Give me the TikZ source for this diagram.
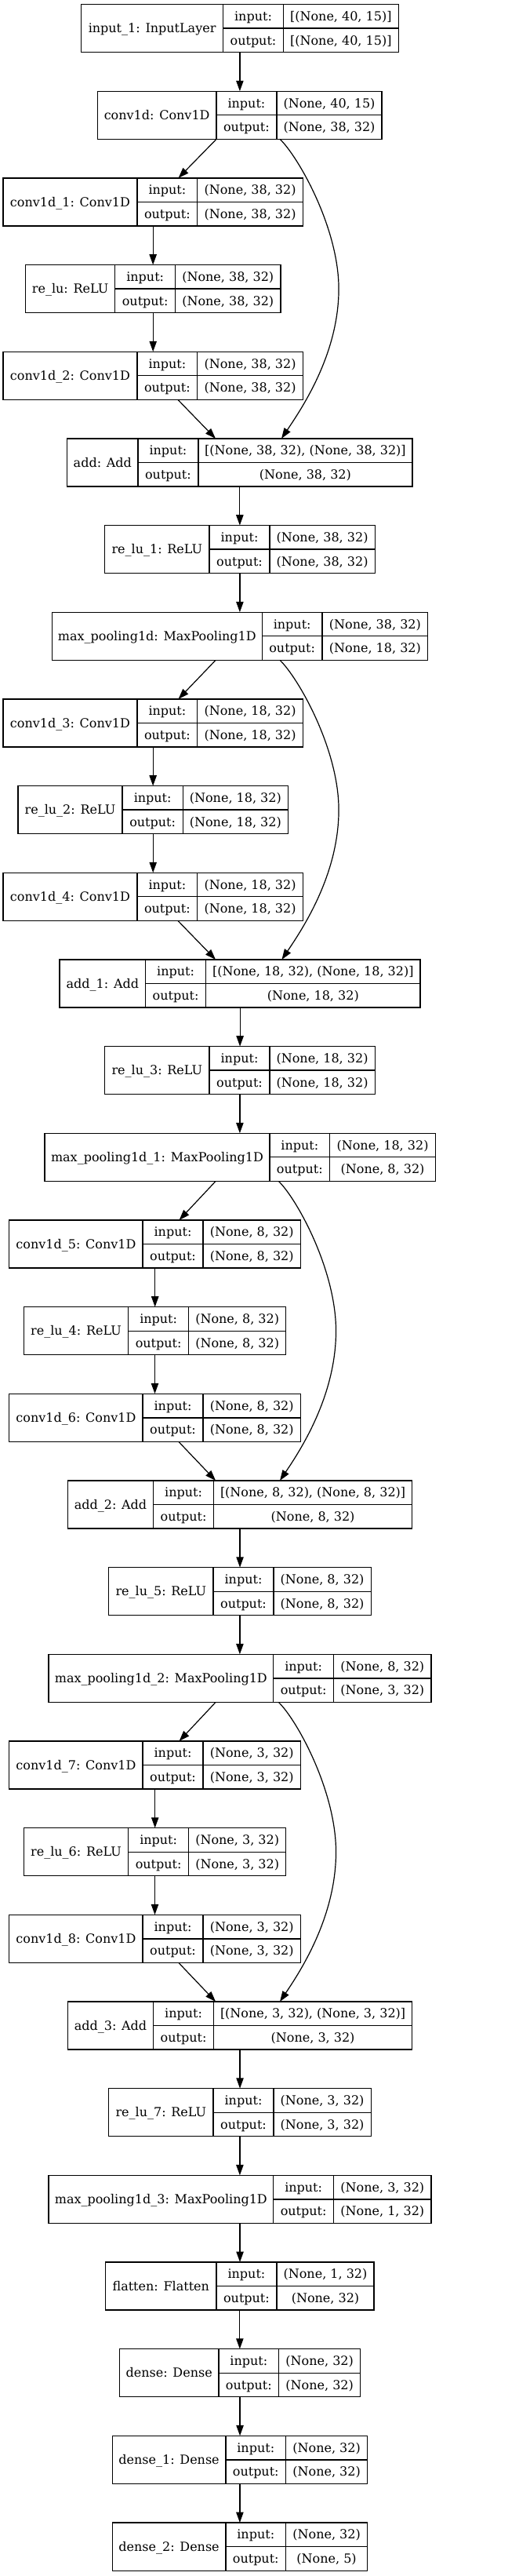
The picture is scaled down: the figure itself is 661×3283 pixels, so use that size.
\documentclass[tikz,border=0pt]{standalone}
\usepackage{fontspec}
\setmainfont{DejaVu Serif}
\usetikzlibrary{arrows.meta,calc}
\tikzset{
  boxframe/.style={draw=black, line width=1pt, inner sep=0pt, outer sep=0pt, anchor=north west},
  cellrule/.style={draw=black, line width=1pt},
  lbl/.style={anchor=base, inner sep=0pt, font=\fontsize{12pt}{14pt}\selectfont},
  edge/.style={draw=black, line width=0.9pt, -{Triangle[length=10pt,width=7pt]}},
}
\newcommand\layerbox[8]{%
  \pgfmathsetmacro\lyTop{5.5+110.67*#1}%
  \pgfmathsetmacro\lyWid{(#5-#2)*0.75}%
  \node[boxframe, minimum width=\lyWid pt, minimum height=45.9pt] (L#1) at (#2,\lyTop) {};
  \draw[cellrule] (#3,\lyTop) -- ++(0,61.2) (#4,\lyTop) -- ++(0,61.2) (#3,\lyTop+30.6) -- (#5,\lyTop+30.6);
  \node[lbl] (L#1n) at ({(#2+#3)/2},\lyTop+36.3) {#6};
  \node[lbl] (L#1ik) at ({(#3+#4)/2},\lyTop+21) {input:};
  \node[lbl] (L#1iv) at ({(#4+#5)/2},\lyTop+21) {#7};
  \node[lbl] (L#1ok) at ({(#3+#4)/2},\lyTop+51.6) {output:};
  \node[lbl] (L#1ov) at ({(#4+#5)/2},\lyTop+51.6) {#8};
}
\begin{document}
\begin{tikzpicture}[x=0.75pt,y=-0.75pt]
\fill[white] (0,0) rectangle (661,3283);
\useasboundingbox (0,0) rectangle (661,3283);
\layerbox{0}{103.6}{284.6}{361.4}{508.2}{input\_1: InputLayer}{[(None, 40, 15)]}{[(None, 40, 15)]}
\layerbox{1}{124.3}{276}{352.9}{487.1}{conv1d: Conv1D}{(None, 40, 15)}{(None, 38, 32)}
\layerbox{2}{3.9}{175}{251.8}{386.4}{conv1d\_1: Conv1D}{(None, 38, 32)}{(None, 38, 32)}
\layerbox{3}{32.5}{146.8}{223.6}{357.9}{re\_lu: ReLU}{(None, 38, 32)}{(None, 38, 32)}
\layerbox{4}{3.9}{175}{251.8}{386.4}{conv1d\_2: Conv1D}{(None, 38, 32)}{(None, 38, 32)}
\layerbox{5}{85.7}{176}{252.9}{526}{add: Add}{[(None, 38, 32), (None, 38, 32)]}{(None, 38, 32)}
\layerbox{6}{133.6}{267.1}{343.9}{478.2}{re\_lu\_1: ReLU}{(None, 38, 32)}{(None, 38, 32)}
\layerbox{7}{66.4}{334.3}{411.1}{545.7}{max\_pooling1d: MaxPooling1D}{(None, 38, 32)}{(None, 18, 32)}
\layerbox{8}{3.9}{175}{251.8}{386.4}{conv1d\_3: Conv1D}{(None, 18, 32)}{(None, 18, 32)}
\layerbox{9}{22.9}{156.1}{233.2}{367.5}{re\_lu\_2: ReLU}{(None, 18, 32)}{(None, 18, 32)}
\layerbox{10}{3.9}{175}{251.8}{386.4}{conv1d\_4: Conv1D}{(None, 18, 32)}{(None, 18, 32)}
\layerbox{11}{76.1}{185.7}{262.5}{536.1}{add\_1: Add}{[(None, 18, 32), (None, 18, 32)]}{(None, 18, 32)}
\layerbox{12}{133.6}{267.1}{343.9}{478.2}{re\_lu\_3: ReLU}{(None, 18, 32)}{(None, 18, 32)}
\layerbox{13}{57.1}{343.9}{420.7}{555.4}{max\_pooling1d\_1: MaxPooling1D}{(None, 18, 32)}{(None, 8, 32)}
\layerbox{14}{11.8}{182.1}{258.9}{383.6}{conv1d\_5: Conv1D}{(None, 8, 32)}{(None, 8, 32)}
\layerbox{15}{30.4}{163.6}{240.7}{364.6}{re\_lu\_4: ReLU}{(None, 8, 32)}{(None, 8, 32)}
\layerbox{16}{11.8}{182.1}{258.9}{383.6}{conv1d\_6: Conv1D}{(None, 8, 32)}{(None, 8, 32)}
\layerbox{17}{86.4}{195.7}{272.5}{525.7}{add\_2: Add}{[(None, 8, 32), (None, 8, 32)]}{(None, 8, 32)}
\layerbox{18}{138.6}{272.1}{348.9}{473.2}{re\_lu\_5: ReLU}{(None, 8, 32)}{(None, 8, 32)}
\layerbox{19}{62.1}{348.6}{425.7}{550}{max\_pooling1d\_2: MaxPooling1D}{(None, 8, 32)}{(None, 3, 32)}
\layerbox{20}{11.8}{182.1}{258.9}{383.6}{conv1d\_7: Conv1D}{(None, 3, 32)}{(None, 3, 32)}
\layerbox{21}{30.4}{163.6}{240.7}{364.6}{re\_lu\_6: ReLU}{(None, 3, 32)}{(None, 3, 32)}
\layerbox{22}{11.8}{182.1}{258.9}{383.6}{conv1d\_8: Conv1D}{(None, 3, 32)}{(None, 3, 32)}
\layerbox{23}{86.4}{195.7}{272.5}{525.7}{add\_3: Add}{[(None, 3, 32), (None, 3, 32)]}{(None, 3, 32)}
\layerbox{24}{138.6}{272.1}{348.9}{473.2}{re\_lu\_7: ReLU}{(None, 3, 32)}{(None, 3, 32)}
\layerbox{25}{62.1}{348.6}{425.7}{550}{max\_pooling1d\_3: MaxPooling1D}{(None, 3, 32)}{(None, 1, 32)}
\layerbox{26}{134.6}{276}{352.9}{477.1}{flatten: Flatten}{(None, 1, 32)}{(None, 32)}
\layerbox{27}{152.5}{278.9}{355.7}{459.6}{dense: Dense}{(None, 32)}{(None, 32)}
\layerbox{28}{143.2}{287.9}{364.6}{468.6}{dense\_1: Dense}{(None, 32)}{(None, 32)}
\layerbox{29}{143.2}{287.9}{364.6}{468.6}{dense\_2: Dense}{(None, 32)}{(None, 5)}
% straight edges on the main column
\foreach \p/\q in {0/1,5/6,6/7,11/12,12/13,17/18,18/19,23/24,24/25,25/26,26/27,27/28,28/29}
  \draw[edge] (L\p.south) -- (L\p.south |- L\q.north);
% residual blocks
\foreach \na/\nc/\nm/\nd/\nb/\ta/\tb/\ua/\ub/\so/\eo/\mo in {
  1/2/3/4/5/-29.7/32.4/31.7/-30.9/51.4/53.2/126.3,
  7/8/9/10/11/-31/32.4/31.7/-31.1/51/53.4/126,
  13/14/15/16/17/-31.2/30.9/30.2/-31/49.1/51/122.4,
  19/20/21/22/23/-31/30.9/30.2/-31/49.3/51/122.5}{
  \draw[edge] ($(L\na.south)+(\ta,0)$) -- ($(L\nc.north)+(\tb,0)$);
  \draw[edge] (L\nc.south) -- (L\nc.south |- L\nm.north);
  \draw[edge] (L\nm.south) -- (L\nm.south |- L\nd.north);
  \draw[edge] ($(L\nd.south)+(\ua,0)$) -- ($(L\nb.north)+(\ub,0)$);
  \coordinate (S\na) at ($(L\na.south)+(\so,0)$);
  \coordinate (E\na) at ($(L\nb.north)+(\eo,0)$);
  \coordinate (M\na) at ($(L\na.south)!0.5!(L\nb.north)+(\mo,0)$);
  \draw[edge] (S\na) .. controls ($(S\na)+(23,22)$) and ($(M\na)+(0,-78)$) .. (M\na)
    .. controls ($(M\na)+(0,82)$) and ($(E\na)+(27,-40)$) .. (E\na);
}
\end{tikzpicture}
\end{document}
